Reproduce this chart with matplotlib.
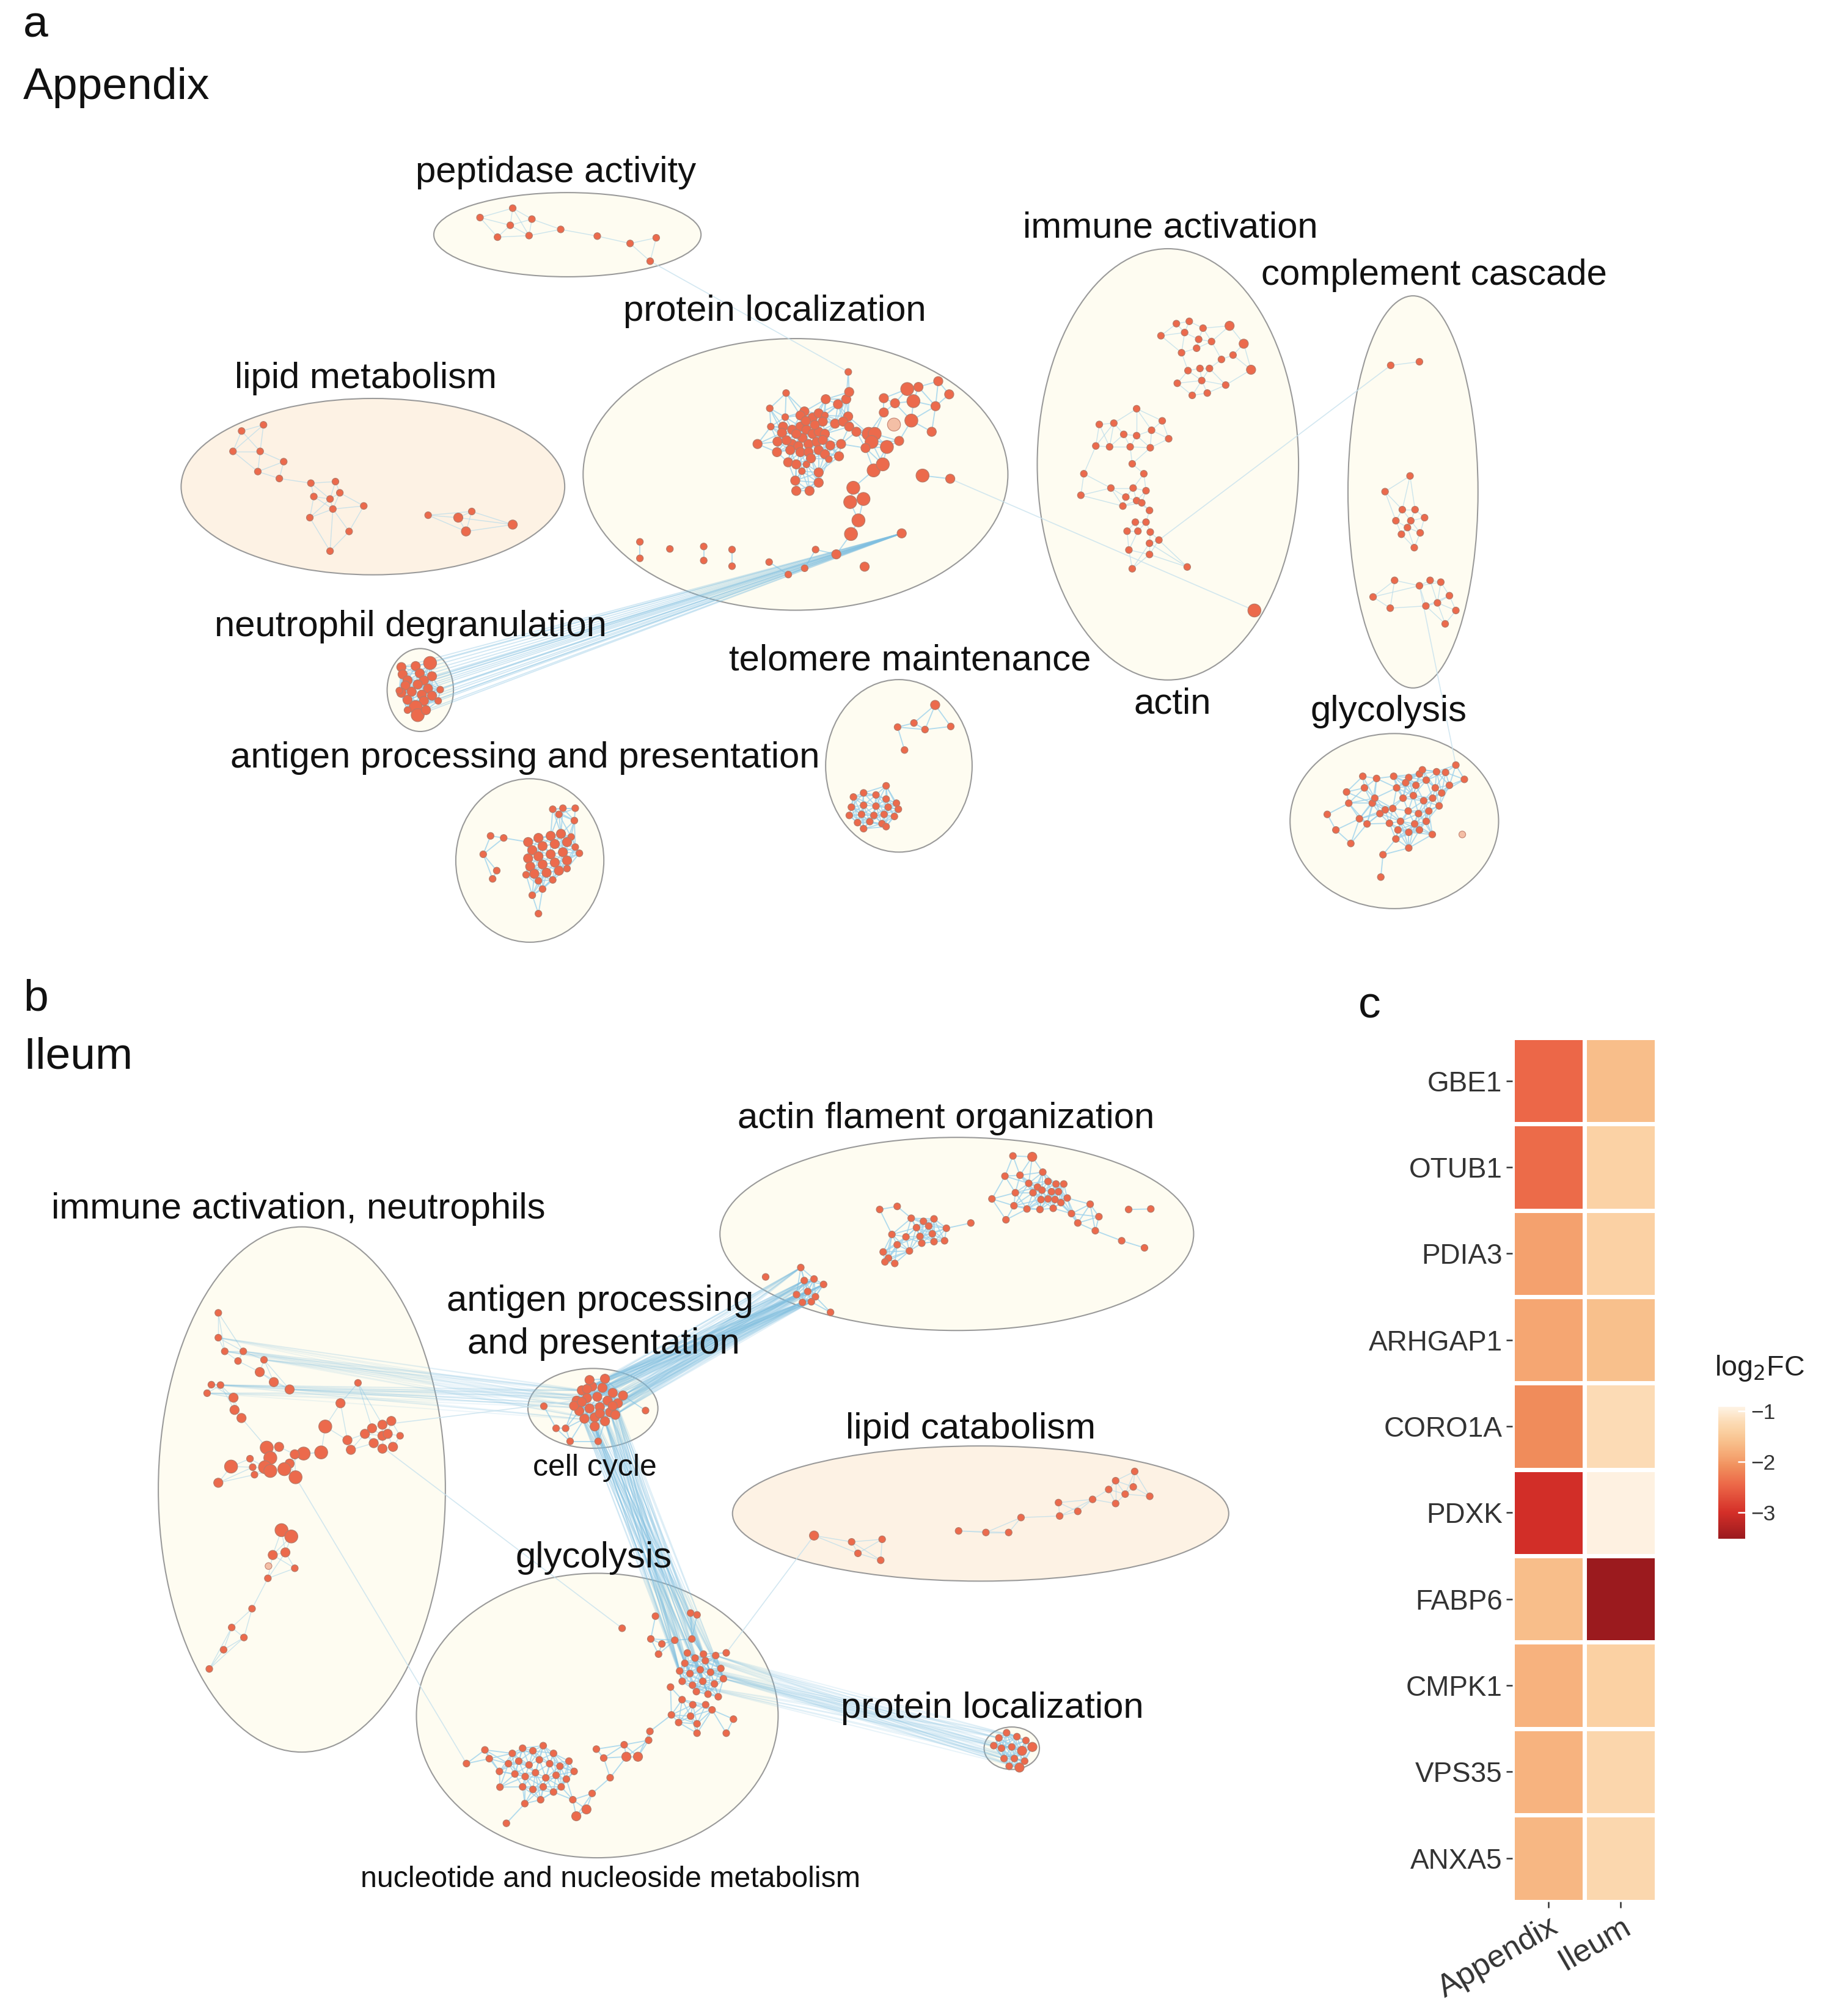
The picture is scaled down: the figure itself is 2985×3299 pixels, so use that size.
import matplotlib
matplotlib.use("Agg")
import matplotlib.pyplot as plt
import numpy as np
from matplotlib.patches import Ellipse
from matplotlib.collections import LineCollection
from matplotlib.colors import LinearSegmentedColormap, Normalize
import matplotlib.colorbar as mcolorbar

plt.rcParams['font.family'] = ['Liberation Sans', 'DejaVu Sans']

# ---------------- data: panel c heatmap ----------------
genes = ["GBE1", "OTUB1", "PDIA3", "ARHGAP1", "CORO1A", "PDXK", "FABP6",
         "CMPK1", "VPS35", "ANXA5"]
tissues = ["Appendix", "Ileum"]
lfc_appendix = [-2.45, -2.42, -1.92, -1.88, -2.12, -3.02, -1.62, -1.75, -1.74, -1.70]
lfc_ileum = [-1.62, -1.36, -1.37, -1.60, -1.22, -0.95, -3.50, -1.38, -1.30, -1.28]
cbar_ticks = [-1, -2, -3]

# ---------------- data: network layouts (node x, y, size class) ----------------
# panel a, Appendix
app_peptidase = [(372.9, 169.0, 1), (398.3, 161.7, 1), (413.2, 170.2, 1), (396.4, 175.0, 1),
                 (386.5, 184.2, 1), (411.0, 183.0, 1), (435.6, 178.2, 1), (464.0, 183.4, 1),
                 (489.5, 189.1, 1), (509.8, 184.7, 1), (505.1, 202.9, 1)]
app_lipid = [(187.7, 334.8, 1), (204.7, 330.0, 1), (181.0, 350.6, 1), (202.1, 350.6, 1),
             (220.4, 358.6, 1), (200.3, 366.3, 1), (217.0, 371.7, 1), (241.5, 375.3, 1),
             (260.6, 374.1, 1), (264.0, 382.8, 1), (243.8, 385.7, 1), (256.4, 387.6, 1),
             (258.6, 395.4, 1), (282.6, 393.0, 1), (240.7, 402.1, 1), (271.2, 412.8, 1),
             (256.4, 428.1, 1), (332.6, 400.2, 1), (356.0, 402.1, 2), (366.5, 397.3, 1),
             (362.0, 412.8, 2), (398.3, 407.5, 2)]
app_protein = [(610.7, 305.3, 1), (598.0, 317.2, 1), (598.8, 331.4, 1), (588.5, 344.9, 2),
               (603.6, 351.2, 2), (608.3, 331.4, 2), (607.5, 336.2, 2), (615.4, 333.8, 2),
               (621.8, 331.4, 2), (626.5, 333.8, 2), (631.3, 337.0, 2), (636.0, 335.4, 2),
               (640.8, 337.0, 2), (623.4, 340.1, 2), (615.4, 344.9, 2), (620.2, 346.5, 2),
               (628.1, 344.9, 2), (634.4, 343.3, 2), (639.2, 341.7, 2), (613.9, 349.6, 2),
               (621.8, 351.2, 2), (628.1, 351.2, 2), (636.0, 349.6, 2), (640.8, 352.8, 2),
               (643.9, 356.7, 1), (618.6, 337.0, 2), (624.9, 319.6, 2), (621.8, 322.7, 2),
               (631.3, 324.3, 2), (636.0, 321.1, 2), (640.8, 322.7, 1), (639.2, 327.5, 2),
               (612.3, 359.1, 2), (618.6, 360.7, 2), (626.5, 360.7, 1), (636.0, 367.0, 2),
               (617.8, 373.3, 2), (636.0, 374.9, 2), (618.6, 381.3, 2), (628.9, 381.3, 2),
               (641.5, 310.1, 2), (651.0, 314.0, 2), (657.4, 310.1, 2), (659.7, 304.5, 2),
               (658.9, 323.5, 2), (648.7, 329.1, 2), (655.0, 327.5, 2), (659.7, 331.4, 2),
               (665.3, 335.4, 2), (674.8, 337.0, 3), (679.5, 337.0, 3), (677.1, 343.3, 3),
               (672.4, 348.0, 2), (653.4, 344.9, 2), (651.8, 354.4, 2), (686.6, 309.3, 2),
               (695.3, 313.2, 2), (686.6, 320.4, 2), (689.0, 347.2, 3), (698.5, 342.5, 2),
               (678.7, 365.4, 3), (685.8, 360.7, 3), (662.9, 378.9, 3), (660.5, 390.0, 3),
               (670.8, 387.6, 3), (666.9, 404.2, 3), (716.7, 369.4, 3), (704.8, 302.2, 3),
               (713.5, 300.6, 2), (709.6, 311.6, 3), (708.0, 326.7, 3), (723.8, 335.4, 2),
               (728.9, 296.1, 2), (737.4, 306.3, 2), (726.8, 315.5, 2), (738.2, 371.9, 2),
               (700.5, 414.3, 2), (671.7, 440.2, 2), (649.7, 430.6, 2), (633.6, 426.9, 1),
               (625.1, 441.4, 1), (612.4, 446.3, 1), (597.5, 436.6, 1), (568.7, 426.9, 1),
               (568.7, 439.8, 1), (546.7, 424.5, 1), (546.7, 435.4, 1), (520.4, 426.4, 1),
               (497.1, 420.9, 1), (497.1, 433.7, 1), (659.0, 288.9, 1), (661.1, 414.8, 3),
               (611.0, 342.0, 2), (626.0, 327.0, 2), (633.0, 330.0, 2), (604.0, 343.0, 2),
               (630.0, 356.0, 2), (623.0, 366.0, 1), (645.0, 346.0, 2), (610.0, 324.0, 1)]
app_protein_pale = [(694.5, 329.8, 3)]
app_immune = [(913.9, 251.4, 1), (923.9, 249.6, 1), (934.6, 254.9, 1), (955.2, 253.1, 2),
              (901.9, 260.8, 1), (920.3, 258.3, 1), (931.2, 263.6, 1), (941.2, 265.3, 1),
              (966.2, 267.0, 2), (917.9, 274.0, 1), (929.6, 270.5, 1), (948.9, 279.2, 1),
              (957.9, 275.8, 1), (922.9, 287.9, 1), (932.2, 286.2, 1), (939.6, 286.2, 1),
              (971.9, 287.2, 2), (914.6, 297.7, 1), (933.6, 295.6, 1), (926.2, 307.1, 1),
              (937.9, 305.3, 1), (952.2, 299.1, 1), (883.0, 317.5, 1), (902.9, 326.9, 1),
              (854.0, 329.7, 1), (865.3, 328.7, 1), (873.0, 337.4, 1), (883.0, 338.4, 1),
              (894.6, 334.2, 1), (907.9, 340.8, 1), (851.3, 346.4, 1), (862.0, 347.1, 1),
              (878.0, 347.1, 1), (893.6, 347.8, 1), (879.6, 360.3, 1), (888.6, 368.0, 1),
              (842.0, 368.0, 1), (863.0, 379.1, 1), (839.7, 384.7, 1), (880.3, 379.1, 1),
              (890.3, 381.2, 1), (874.6, 386.1, 1), (883.0, 388.9, 1), (887.0, 390.6, 1),
              (872.3, 393.1, 1), (893.0, 396.5, 1), (882.0, 405.6, 1), (890.3, 405.6, 1),
              (875.6, 412.6, 1), (884.0, 412.6, 1), (893.6, 413.3, 1), (900.3, 419.5, 1),
              (893.0, 422.0, 1), (877.0, 427.2, 1), (893.0, 430.7, 1), (879.6, 441.8, 1),
              (922.3, 440.4, 1), (974.5, 474.2, 3)]
app_complement = [(1080.4, 283.8, 1), (1102.7, 281.0, 1), (1095.4, 369.7, 1), (1076.0, 381.9, 1),
                  (1089.4, 395.9, 1), (1099.3, 395.9, 1), (1084.4, 404.5, 1), (1096.0, 404.5, 1),
                  (1106.7, 402.1, 1), (1088.7, 415.0, 1), (1103.3, 413.9, 1), (1098.7, 425.4, 1),
                  (1093.4, 409.8, 1), (1083.4, 450.8, 1), (1066.7, 463.7, 1), (1080.0, 472.4, 1),
                  (1102.7, 455.0, 1), (1111.0, 450.8, 1), (1119.3, 452.2, 1), (1126.0, 462.7, 1),
                  (1107.7, 470.7, 1), (1116.7, 468.3, 1), (1131.0, 474.2, 1), (1122.7, 484.6, 1)]
app_neutro = [(334.1, 515.0, 3), (322.9, 517.4, 2), (311.8, 518.2, 2), (312.8, 523.8, 2),
              (326.1, 523.0, 2), (335.6, 525.3, 2), (316.6, 528.5, 2), (329.3, 528.5, 2),
              (315.0, 532.5, 2), (324.5, 531.7, 2), (332.5, 534.9, 2), (342.0, 535.7, 1),
              (311.8, 538.1, 2), (319.8, 537.3, 2), (327.7, 539.6, 2), (335.6, 540.4, 2),
              (316.6, 543.6, 2), (329.3, 544.4, 2), (340.4, 544.4, 1), (322.9, 549.2, 3),
              (324.5, 555.5, 3), (330.9, 551.6, 2), (316.6, 551.6, 1), (310.2, 536.5, 1)]
app_antigen = [(429.4, 628.6, 1), (437.3, 627.8, 1), (446.9, 627.8, 1), (434.2, 632.6, 1),
               (446.2, 637.4, 1), (381.1, 649.3, 1), (391.3, 650.9, 1), (375.4, 663.6, 1),
               (385.9, 676.3, 1), (382.7, 682.7, 1), (413.5, 695.4, 1), (418.3, 709.7, 1),
               (421.5, 690.6, 1), (410.3, 654.1, 2), (418.3, 650.9, 2), (427.8, 649.3, 2),
               (435.8, 647.7, 2), (443.7, 650.1, 1), (413.5, 660.4, 2), (421.5, 657.2, 2),
               (431.0, 655.6, 2), (440.5, 654.1, 2), (446.9, 658.0, 1), (410.3, 666.8, 2),
               (418.3, 665.2, 2), (427.8, 663.6, 2), (437.3, 662.0, 2), (450.1, 662.8, 1),
               (411.9, 673.1, 2), (421.5, 671.5, 2), (431.0, 670.0, 2), (440.5, 668.4, 2),
               (415.1, 678.7, 2), (424.6, 677.9, 2), (434.2, 676.3, 2), (440.5, 674.7, 1),
               (418.3, 684.2, 1), (429.4, 683.5, 1), (408.7, 679.5, 1)]
app_telomere = [(726.5, 547.6, 2), (710.0, 561.6, 1), (697.3, 564.8, 1), (718.6, 566.7, 1),
                (738.6, 564.3, 1), (702.7, 582.6, 1), (688.4, 610.4, 1), (663.0, 619.1, 1),
                (670.9, 615.9, 1), (680.5, 617.5, 1), (688.4, 620.7, 1), (696.4, 623.9, 1),
                (661.4, 627.0, 1), (670.9, 625.5, 1), (680.5, 626.2, 1), (690.0, 627.0, 1),
                (697.9, 628.6, 1), (659.8, 633.4, 1), (669.3, 632.6, 1), (678.9, 633.4, 1),
                (686.8, 632.6, 1), (694.8, 634.2, 1), (666.2, 639.0, 1), (675.7, 638.2, 1),
                (685.2, 639.8, 1), (670.9, 643.7, 1), (688.4, 642.1, 1)]
app_glyco = [(1058.7, 603.0, 1), (1069.4, 604.7, 1), (1082.7, 603.0, 1), (1094.4, 604.0, 1),
             (1102.7, 601.2, 1), (1116.0, 599.5, 1), (1131.0, 594.3, 1), (1137.6, 605.4, 1),
             (1046.1, 615.2, 1), (1047.8, 623.9, 1), (1066.1, 623.9, 1), (1076.1, 629.1, 1),
             (1031.1, 632.6, 1), (1037.8, 644.7, 1), (1056.1, 636.0, 1), (1079.4, 639.5, 1),
             (1086.0, 644.7, 1), (1094.4, 646.5, 1), (1102.7, 644.7, 1), (1112.7, 648.2, 1),
             (1049.4, 655.2, 1), (1074.4, 663.9, 1), (1094.4, 658.7, 1), (1072.7, 681.3, 1),
             (1084.4, 651.7, 1), (1085.0, 612.0, 1), (1092.0, 608.0, 1), (1100.0, 610.0, 1),
             (1108.0, 606.0, 1), (1115.0, 612.0, 1), (1090.0, 620.0, 1), (1098.0, 618.0, 1),
             (1106.0, 622.0, 1), (1113.0, 620.0, 1), (1120.0, 616.0, 1), (1082.0, 628.0, 1),
             (1094.0, 630.0, 1), (1102.0, 632.0, 1), (1110.0, 630.0, 1), (1118.0, 626.0, 1),
             (1088.0, 638.0, 1), (1099.0, 640.0, 1), (1108.0, 638.0, 1), (1126.0, 610.0, 1),
             (1123.0, 600.0, 1), (1105.0, 598.0, 1), (1060.0, 612.0, 1), (1068.0, 620.0, 1),
             (1072.0, 632.0, 1), (1062.0, 640.0, 1)]
app_glyco_pale = [(1136.0, 648.2, 1)]

# panel b, Ileum
il_actin = [(786.9, 897.9, 1), (801.9, 898.6, 2), (780.7, 913.6, 1), (792.4, 912.9, 1),
            (810.1, 910.5, 1), (788.8, 926.5, 1), (799.2, 919.2, 1), (806.0, 922.1, 1),
            (814.2, 917.7, 1), (820.4, 919.7, 1), (826.4, 919.7, 1), (802.5, 926.5, 1),
            (809.5, 924.5, 1), (816.9, 925.7, 1), (822.3, 925.7, 1), (829.1, 930.6, 1),
            (808.7, 931.8, 1), (814.2, 931.3, 1), (819.6, 931.8, 1), (787.7, 936.6, 1),
            (797.8, 939.1, 1), (807.9, 939.5, 1), (818.2, 938.6, 1), (824.2, 934.2, 1),
            (846.9, 935.4, 1), (832.4, 942.7, 1), (853.7, 945.1, 1), (837.3, 950.0, 1),
            (850.9, 956.0, 1), (871.4, 963.8, 1), (889.1, 969.3, 1), (876.8, 939.5, 1),
            (894.0, 939.1, 1), (770.6, 931.3, 1), (781.5, 947.5, 1), (754.2, 950.0, 1),
            (683.4, 939.5, 1), (697.0, 937.1, 1), (707.9, 946.3, 1), (717.4, 948.7, 1),
            (725.6, 946.8, 1), (712.0, 953.6, 1), (721.5, 952.4, 1), (735.2, 954.1, 1),
            (703.8, 960.8, 1), (714.7, 960.4, 1), (724.3, 958.4, 1), (733.8, 963.8, 1),
            (716.1, 965.7, 1), (692.9, 958.9, 1), (697.0, 966.9, 1), (706.5, 971.7, 1),
            (686.1, 972.5, 1), (690.2, 977.3, 1), (695.1, 981.4, 1), (687.5, 980.2, 1),
            (725.6, 964.5, 1), (594.8, 991.9, 1), (645.2, 1019.4, 1)]
il_actin_hub = [(622.1, 984.6, 1), (624.8, 994.7, 1), (632.4, 993.5, 1), (639.8, 997.7, 1),
                (618.8, 1005.6, 1), (627.5, 1003.2, 1), (633.5, 1007.3, 1), (623.4, 1011.7, 1),
                (630.3, 1011.2, 1)]
il_immune = [(169.6, 1019.8, 1), (184.9, 1057.2, 1), (201.8, 1065.8, 2), (212.7, 1073.6, 2),
             (181.4, 1085.7, 2), (182.2, 1095.2, 2), (187.6, 1101.5, 2), (278.1, 1074.2, 1),
             (264.5, 1090.0, 2), (252.7, 1108.1, 3), (269.9, 1118.7, 2), (272.6, 1126.2, 2),
             (249.5, 1128.2, 3), (235.9, 1129.1, 3), (229.6, 1147.5, 3), (229.0, 1129.7, 2),
             (225.0, 1136.9, 2), (220.9, 1141.2, 3), (216.8, 1123.9, 2), (207.2, 1124.5, 3),
             (210.0, 1132.5, 3), (205.9, 1139.7, 3), (210.0, 1142.6, 3), (194.2, 1133.1, 1),
             (196.3, 1139.7, 1), (197.7, 1145.5, 1), (179.5, 1139.2, 3), (169.6, 1151.8, 2),
             (283.5, 1113.8, 2), (289.0, 1109.5, 2), (297.1, 1106.7, 2), (304.0, 1103.8, 2),
             (297.1, 1115.3, 2), (290.3, 1121.0, 2), (297.1, 1125.3, 2), (305.3, 1123.9, 2),
             (301.2, 1113.8, 2), (310.8, 1115.3, 1), (218.7, 1188.6, 3), (226.3, 1193.5, 3),
             (211.9, 1207.9, 2), (221.7, 1205.9, 2), (229.0, 1218.2, 1), (208.1, 1226.0, 1),
             (195.8, 1249.6, 1), (180.0, 1264.2, 1), (189.5, 1272.0, 1), (173.7, 1281.5, 1),
             (162.6, 1296.4, 1)]
il_immune_out = [(169.6, 1039.1, 1), (174.6, 1049.7, 1), (189.0, 1049.7, 1), (164.2, 1075.6, 1),
                 (171.3, 1075.9, 1), (160.9, 1082.2, 1), (225.0, 1079.3, 2), (205.1, 1056.3, 1)]
il_immune_pale = [(208.6, 1216.5, 1)]
il_antigen_core = [(452, 1080, 2), (460, 1077, 2), (468, 1078, 2), (476, 1082, 2), (448, 1088, 2),
                   (456, 1086, 2), (464, 1085, 2), (472, 1088, 2), (480, 1090, 2), (450, 1096, 2),
                   (458, 1094, 2), (466, 1093, 2), (474, 1097, 2), (454, 1102, 2), (462, 1101, 2),
                   (470, 1104, 2), (478, 1099, 2), (458, 1072, 2), (470, 1071, 2), (446, 1092, 2),
                   (484, 1084, 2), (462, 1108, 2), (456, 1079, 2), (466, 1098, 2), (452, 1089, 2),
                   (476, 1092, 2)]
il_antigen_outer = [(422.5, 1092.3, 1), (432.0, 1109.5, 1), (439.4, 1109.5, 1), (442.9, 1119.6, 1),
                    (464.7, 1119.6, 1), (501.5, 1095.7, 1)]
il_lipid = [(632.4, 1192.8, 2), (661.6, 1197.7, 1), (685.3, 1195.7, 1), (666.5, 1206.6, 1),
            (684.2, 1212.0, 1), (744.7, 1189.2, 1), (765.9, 1190.4, 1), (783.6, 1190.4, 1),
            (793.2, 1178.8, 1), (822.3, 1167.2, 1), (823.2, 1177.6, 1), (837.3, 1174.0, 1),
            (848.8, 1164.7, 1), (861.3, 1157.0, 1), (866.7, 1150.2, 1), (881.5, 1143.0, 1),
            (880.4, 1155.0, 1), (874.1, 1160.6, 1), (866.7, 1167.9, 1), (893.2, 1162.3, 1)]
il_glyco_hub = [(532, 1292, 1), (540, 1288, 1), (548, 1290, 1), (556, 1286, 1), (536, 1300, 1),
                (544, 1297, 1), (552, 1299, 1), (560, 1296, 1), (530, 1306, 1), (538, 1309, 1),
                (546, 1306, 1), (555, 1308, 1), (562, 1304, 1), (541, 1314, 1), (550, 1316, 1),
                (534, 1284, 1), (528, 1298, 1), (558, 1318, 1)]
il_glyco = [(483.3, 1264.8, 1), (509.2, 1255.4, 1), (536.5, 1253.0, 1), (541.5, 1254.4, 1),
            (505.6, 1273.1, 1), (514.2, 1277.0, 1), (524.2, 1274.1, 1), (537.5, 1273.1, 1),
            (511.6, 1284.9, 1), (564.2, 1283.9, 1), (546.5, 1284.9, 1), (520.9, 1310.5, 1),
            (529.9, 1320.3, 1), (521.6, 1332.1, 1), (527.2, 1338.0, 1), (536.5, 1333.1, 1),
            (541.5, 1339.0, 1), (541.5, 1346.3, 1), (553.2, 1328.2, 1), (564.2, 1346.3, 1),
            (569.8, 1335.4, 1), (548.2, 1324.2, 1), (538.2, 1324.2, 1), (504.9, 1344.9, 1),
            (503.9, 1351.8, 1), (484.9, 1355.3, 1), (495.6, 1364.6, 2), (486.6, 1364.6, 2),
            (474.0, 1380.9, 1), (463.3, 1358.7, 1), (469.0, 1365.6, 1), (362.4, 1369.9, 1),
            (376.7, 1359.3, 1), (380.1, 1366.1, 1), (388.4, 1388.2, 1), (407.7, 1401.0, 1),
            (393.4, 1416.3, 1), (447.7, 1410.8, 2), (455.6, 1405.5, 2), (460.0, 1393.1, 1),
            (445.0, 1398.0, 1), (398, 1362, 1), (406, 1358, 1), (414, 1360, 1), (422, 1356, 1),
            (430, 1362, 1), (395, 1370, 1), (403, 1368, 1), (411, 1371, 1), (419, 1367, 1),
            (427, 1370, 1), (435, 1372, 1), (442, 1368, 1), (400, 1378, 1), (408, 1380, 1),
            (416, 1377, 1), (424, 1381, 1), (432, 1379, 1), (440, 1382, 1), (406, 1388, 1),
            (414, 1390, 1), (422, 1388, 1), (430, 1392, 1), (446, 1376, 1), (388, 1376, 1),
            (420, 1398, 1), (436, 1388, 1)]
il_protein = [(776, 1350, 1), (782, 1346, 1), (790, 1349, 1), (797, 1352, 1), (778, 1358, 1),
              (786, 1357, 1), (794, 1360, 2), (802, 1357, 2), (780, 1366, 1), (788, 1366, 1),
              (796, 1368, 1), (784, 1372, 1), (792, 1373, 2), (772, 1356, 1)]

# group outlines: name, center x, center y, width, height, peach fill?
groups = [
    ("peptidase activity", 440.8, 182.3, 207.6, 65.4, False),
    ("protein localization", 618.0, 368.5, 330.0, 211.0, False),
    ("lipid metabolism", 289.7, 378.0, 298.0, 137.0, True),
    ("immune activation", 907.3, 360.7, 203.0, 335.0, False),
    ("complement cascade", 1097.7, 382.1, 101.0, 304.6, False),
    ("glycolysis", 1083.2, 637.8, 162.0, 136.0, False),
    ("neutrophil degranulation", 326.5, 536.0, 51.5, 64.4, False),
    ("antigen processing and presentation", 411.6, 668.4, 115.0, 127.0, False),
    ("telomere maintenance", 698.3, 594.9, 113.8, 134.0, False),
    ("actin flament organization", 743.3, 958.5, 368.0, 150.0, False),
    ("immune activation, neutrophils", 234.5, 1157.0, 223.0, 408.0, False),
    ("antigen processing and presentation", 460.6, 1094.0, 101.0, 62.0, False),
    ("lipid catabolism", 761.8, 1175.7, 385.5, 105.0, True),
    ("glycolysis", 464.0, 1332.6, 281.0, 221.0, False),
    ("protein localization", 786.0, 1358.0, 43.0, 33.0, False),
]

# text labels: text, x, y, fontsize
labels = [
    ("peptidase activity", 432, 134, 14.4), ("immune activation", 909, 177, 14.4),
    ("complement cascade", 1114, 214, 14.4), ("protein localization", 602, 242, 14.4),
    ("lipid metabolism", 284, 294, 14.4), ("neutrophil degranulation", 319, 487, 14.4),
    ("telomere maintenance", 707, 513, 14.4), ("actin", 911, 547, 14.4),
    ("glycolysis", 1079, 553, 14.4), ("antigen processing and presentation", 408, 589, 14.4),
    ("actin flament organization", 735, 869, 14.4),
    ("immune activation, neutrophils", 232, 939, 14.4),
    ("antigen processing", 466, 1011, 14.4), ("and presentation", 469, 1044, 14.4),
    ("cell cycle", 462, 1140, 12.0), ("lipid catabolism", 754, 1110, 14.4),
    ("glycolysis", 461, 1210, 14.4), ("protein localization", 771, 1327, 14.4),
    ("nucleotide and nucleoside metabolism", 474, 1460, 11.6),
]
panel_titles = [("a", 18, 20), ("Appendix", 18, 68), ("b", 18, 776), ("Ileum", 18, 821)]

W, H = 1417, 1566
fig = plt.figure(figsize=(2985 / 300, 3299 / 300), dpi=300)
ax = fig.add_axes([0, 0, 1, 1])
ax.set_xlim(0, W)
ax.set_ylim(H, 0)
ax.axis("off")

for name, cx, cy, w, h, peach in groups:
    ax.add_patch(Ellipse((cx, cy), w, h, facecolor="#fdf2e4" if peach else "#fefcf1",
                         edgecolor="#9a9a9a", lw=0.5, zorder=1))


def near_edges(pts, k, rmax):
    p = np.array([(a, b) for a, b, _ in pts])
    d = np.hypot(p[:, None, 0] - p[None, :, 0], p[:, None, 1] - p[None, :, 1])
    seen = set()
    segs = []
    for i in range(len(p)):
        for j in np.argsort(d[i])[1:k + 1]:
            key = (min(i, j), max(i, j))
            if d[i, j] <= rmax and key not in seen:
                seen.add(key)
                segs.append([p[i], p[j]])
    return segs


def all_pairs(src, dst):
    return [[(a[0], a[1]), (b[0], b[1])] for a in src for b in dst]


# within-group edges (k neighbours, max length)
dense = [app_protein, app_neutro, app_antigen, app_telomere, app_glyco,
         il_antigen_core + il_antigen_outer, il_glyco_hub, il_glyco, il_protein,
         il_actin + il_actin_hub]
sparse = [app_peptidase, app_lipid, app_immune, app_complement,
          il_immune + il_immune_out, il_lipid]
segs_dense = []
for grp in dense:
    segs_dense += near_edges(grp, 8, 22)
segs_sparse = []
for grp in sparse:
    segs_sparse += near_edges(grp, 3, 45)
ax.add_collection(LineCollection(segs_dense, colors="#9fd3ec", lw=0.45, alpha=0.8, zorder=2))
ax.add_collection(LineCollection(segs_sparse, colors="#b9dcea", lw=0.35, alpha=0.7, zorder=2))

# between-group bundles: (edges, alpha)
bundles = [
    (all_pairs(app_neutro, [app_protein[76]]), 0.35),
    (all_pairs(il_immune_out, il_antigen_core[::5]), 0.14),
    (all_pairs(il_antigen_core[::2], il_actin_hub), 0.22),
    (all_pairs(il_antigen_core[::3], il_glyco_hub[::2]), 0.24),
    (all_pairs(il_glyco_hub[::3], il_protein[::2]), 0.18),
]
for segs, a in bundles:
    ax.add_collection(LineCollection(segs, colors="#7fbfe0", lw=0.45, alpha=a, zorder=2))

faint = [[(738.2, 371.9), (974.5, 474.2)], [(900.3, 419.5), (1080.4, 283.8)],
         [(1102.7, 455.0), (1131.0, 594.3)], [(505.1, 202.9), (659.0, 288.9)],
         [(283.5, 1113.8), (483.3, 1264.8)], [(229.6, 1147.5), (362.4, 1369.9)],
         [(297.1, 1106.7), (448.0, 1088.0)], [(564.2, 1283.9), (632.4, 1192.8)]]
ax.add_collection(LineCollection(faint, colors="#c8e2ee", lw=0.4, alpha=0.8, zorder=2))

size_map = {1: 7, 2: 13, 3: 26}
all_nodes = (app_peptidase + app_lipid + app_protein + app_immune + app_complement + app_neutro
             + app_antigen + app_telomere + app_glyco + il_actin + il_actin_hub + il_immune
             + il_immune_out + il_antigen_core + il_antigen_outer + il_lipid + il_glyco_hub
             + il_glyco + il_protein)
pale_nodes = app_protein_pale + app_glyco_pale + il_immune_pale
ax.scatter([n[0] for n in all_nodes], [n[1] for n in all_nodes],
           s=[size_map[n[2]] for n in all_nodes], c="#ec6a4c", edgecolors="#b87a68",
           linewidths=0.3, zorder=3)
ax.scatter([n[0] for n in pale_nodes], [n[1] for n in pale_nodes],
           s=[size_map[n[2]] for n in pale_nodes], c="#f4bfa6", edgecolors="#c98a78",
           linewidths=0.3, zorder=3)

for txt, x, y, fs in labels:
    ax.text(x, y, txt, fontsize=fs, ha="center", va="center", color="#111111", zorder=4)
for txt, x, y in panel_titles:
    ax.text(x, y, txt, fontsize=17.6, ha="left", va="center", color="#111111")
ax.text(1055, 782, "c", fontsize=17.6, ha="left", va="center", color="#111111")

# ---------------- panel c heatmap ----------------
vmin, vmax = -3.52, -0.91
stops = [(-3.52, "#9a1a1e"), (-3.0, "#d42f28"), (-2.45, "#ec6848"), (-2.1, "#f08e5c"),
         (-1.9, "#f5a470"), (-1.6, "#f8c08c"), (-1.35, "#fbd3a6"), (-1.2, "#fcdcb7"),
         (-0.91, "#fef4e6")]
cmap = LinearSegmentedColormap.from_list(
    "lfc", [((v - vmin) / (vmax - vmin), c) for v, c in stops])
norm = Normalize(vmin=vmin, vmax=vmax)

hax = fig.add_axes([1175 / W, 1 - 1477 / H, 112 / W, 671 / H])
vals = np.column_stack([lfc_appendix, lfc_ileum])
hax.pcolormesh(np.arange(3), np.arange(len(genes) + 1), vals, cmap=cmap, norm=norm,
               edgecolors="white", linewidth=1.6)
hax.set_xlim(0, 2)
hax.set_ylim(len(genes), 0)
for s in hax.spines.values():
    s.set_visible(False)
hax.set_yticks(np.arange(len(genes)) + 0.5)
hax.set_yticklabels(genes, fontsize=11, color="#333333")
hax.set_xticks([0.5, 1.5])
hax.set_xticklabels(tissues, fontsize=12.5, color="#333333", rotation=30,
                    ha="right", va="top", rotation_mode="anchor")
hax.tick_params(length=2.5, width=0.6, color="#333333", pad=1.5)

cax = fig.add_axes([1335.1 / W, 1 - 1195.4 / H, 20.9 / W, 102.8 / H])
cb = mcolorbar.ColorbarBase(cax, cmap=cmap, norm=norm, orientation="vertical")
cb.outline.set_visible(False)
cb.set_ticks(cbar_ticks)
cb.set_ticklabels(["\u22121", "\u22122", "\u22123"])
cax.tick_params(labelsize=8.5, color="white", direction="in", length=3, width=0.6,
                labelcolor="#333333", pad=2)
fig.text(1332 / W, 1 - 1063 / H, "log$_2$FC", fontsize=11.2, ha="left", va="center",
         color="#222222")

fig.savefig("out.png", dpi=300)
